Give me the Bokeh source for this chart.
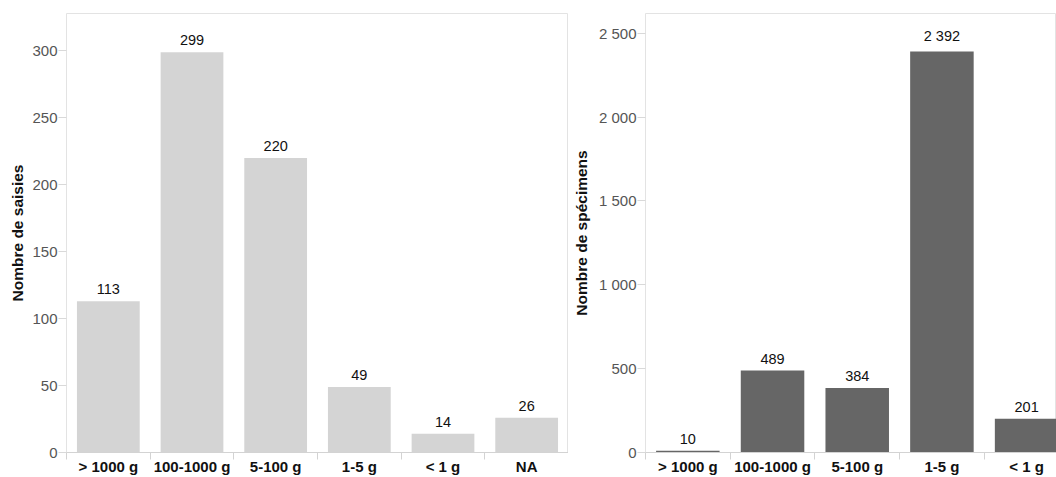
from bokeh.plotting import figure
from bokeh.models import Range1d, FixedTicker, ColumnDataSource
from bokeh.layouts import row
from bokeh.core.properties import value
from bokeh.embed import file_html
from bokeh.resources import INLINE

# ---- data ----
saisies_categories = ["> 1000 g", "100-1000 g", "5-100 g", "1-5 g", "< 1 g", "NA"]
saisies_values = [113, 299, 220, 49, 14, 26]
saisies_ticks = [0, 50, 100, 150, 200, 250, 300]

specimens_categories = ["> 1000 g", "100-1000 g", "5-100 g", "1-5 g", "< 1 g"]
specimens_values = [10, 489, 384, 2392, 201]
specimens_ticks = [0, 500, 1000, 1500, 2000, 2500]

FONT = "Liberation Sans"
HEIGHT = 477


def fmt(v):
    return f"{v:,}".replace(",", " ")


def panel(cats, vals, ticks, y_end, x_end, color, title, width, mbl, title_standoff):
    p = figure(width=width, height=HEIGHT,
               x_range=Range1d(0, x_end), y_range=Range1d(0, y_end),
               output_backend="svg", toolbar_location=None,
               min_border_left=mbl, min_border_right=0,
               min_border_top=13, min_border_bottom=0)
    xs = [i + 0.5 for i in range(len(cats))]
    src = ColumnDataSource(dict(x=xs, top=vals, label=[fmt(v) for v in vals]))
    p.vbar(x="x", top="top", bottom=0, width=0.75, source=src,
           fill_color=color, line_color=None)
    p.text(x="x", y="top", text="label", source=src,
           text_align="center", text_baseline="bottom", y_offset=-7,
           text_font=value(FONT), text_font_size="14.5px", text_color="#111111")

    p.xgrid.grid_line_color = None
    p.ygrid.grid_line_color = None
    p.outline_line_color = "#e3e3e3"
    p.background_fill_color = "white"
    p.border_fill_color = "white"

    xa = p.xaxis[0]
    xa.ticker = FixedTicker(ticks=xs, minor_ticks=list(range(len(cats) + 1)))
    xa.major_label_overrides = {x: c for x, c in zip(xs, cats)}
    xa.major_tick_out = 0
    xa.major_tick_in = 0
    xa.major_tick_line_color = None
    xa.minor_tick_out = 7
    xa.minor_tick_in = 0
    xa.minor_tick_line_color = "#d3d3d3"
    xa.axis_line_color = "#d3d3d3"
    xa.major_label_text_font = FONT
    xa.major_label_text_font_size = "15px"
    xa.major_label_text_font_style = "bold"
    xa.major_label_text_color = "#111111"
    xa.major_label_standoff = -2

    ya = p.yaxis[0]
    ya.ticker = FixedTicker(ticks=ticks, minor_ticks=[])
    ya.major_label_overrides = {t: fmt(t) for t in ticks}
    ya.major_tick_out = 8
    ya.major_tick_in = 0
    ya.major_tick_line_color = "#d9d9d9"
    ya.minor_tick_line_color = None
    ya.axis_line_color = None
    ya.major_label_text_font = FONT
    ya.major_label_text_font_size = "15px"
    ya.major_label_text_color = "#555555"
    ya.major_label_standoff = 1
    ya.axis_label = title
    ya.axis_label_text_font = FONT
    ya.axis_label_text_font_size = "15.5px"
    ya.axis_label_text_font_style = "bold"
    ya.axis_label_text_color = "#111111"
    ya.axis_label_standoff = title_standoff
    return p


left = panel(saisies_categories, saisies_values, saisies_ticks, 328, 6,
             "#d4d4d4", "Nombre de saisies", 568, 66, 3)
right = panel(specimens_categories, specimens_values, specimens_ticks, 2618, 4.853,
              "#666666", "Nombre de spécimens", 488, 77, 6)

layout = row(left, right)
open("out.html", "w").write(file_html(layout, INLINE))
